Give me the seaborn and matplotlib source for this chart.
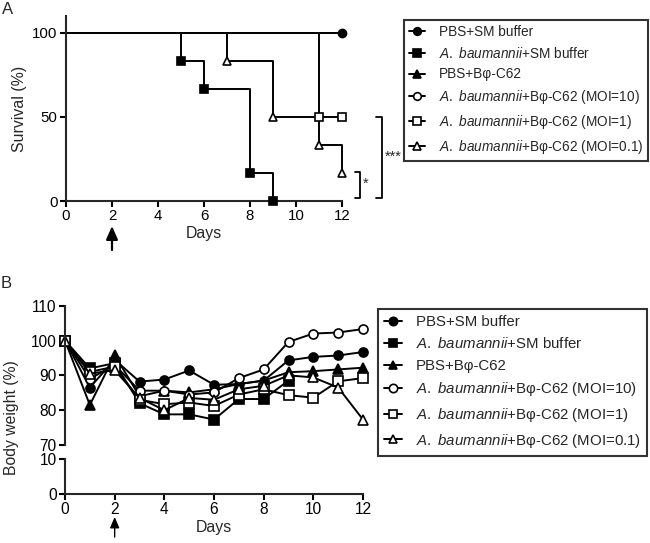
import matplotlib as mpl
import matplotlib.pyplot as plt
import matplotlib.transforms as mtransforms
from matplotlib.lines import Line2D
import seaborn as sns

sns.set_style("ticks")
mpl.rcParams["font.family"] = ["Liberation Sans", "DejaVu Sans"]
mpl.rcParams["mathtext.fontset"] = "custom"
mpl.rcParams["mathtext.rm"] = "Liberation Sans"
mpl.rcParams["mathtext.it"] = "Liberation Sans:italic"

# group labels, markers
groups = ["PBS+SM buffer",
          r"$\it{A.\ baumannii}$+SM buffer",
          "PBS+Bφ-C62",
          r"$\it{A.\ baumannii}$+Bφ-C62 (MOI=10)",
          r"$\it{A.\ baumannii}$+Bφ-C62 (MOI=1)",
          r"$\it{A.\ baumannii}$+Bφ-C62 (MOI=0.1)"]
markers = ["o", "s", "^", "o", "s", "^"]
filled = [True, True, True, False, False, False]

# panel A: survival (Kaplan-Meier steps)
surv_t = [[0, 12], [0, 5, 6, 8, 9], [0, 12], [0, 12], [0, 11, 12], [0, 7, 9, 11, 12]]
surv_s = [[100, 100], [100, 83.3, 66.7, 16.7, 0], [100, 100], [100, 100],
          [100, 50, 50], [100, 83.3, 50, 33.3, 16.7]]
mark_t = [[12], [5, 6, 8, 9], [], [], [11, 12], [7, 9, 11, 12]]
mark_s = [[100], [83.3, 66.7, 16.7, 0], [], [], [50, 50], [83.3, 50, 33.3, 16.7]]

# panel B: body weight
days = list(range(13))
bw_pbs_sm = [100, 86.5, 94.5, 88.2, 88.8, 91.4, 87.3, 87.5, 88.5, 94.3, 95.3, 95.7, 96.7]
bw_ab_sm = [100, 92, 93.5, 82, 78.8, 78.8, 77.3, 83.2, 83.2, 88.5]
bw_pbs_ph = [100, 81.5, 95.8, 84, 85.6, 85.1, 86, 87.5, 88.5, 90.9, 91.2, 91.7, 92.2]
bw_moi10 = [100, 89, 93, 85.6, 85.6, 84.5, 85.1, 89.2, 91.7, 99.6, 102, 102.3, 103.3]
bw_moi1 = [100, 91, 92.5, 83, 81.7, 82.2, 81.2, 84.5, 86, 84.3, 83.6, 88.3, 89.2]
bw_moi01 = [100, 90.5, 91.5, 83.5, 80, 83.5, 83, 86, 87, 90, 89.4, 86.5, 77.3]
bw = [bw_pbs_sm, bw_ab_sm, bw_pbs_ph, bw_moi10, bw_moi1, bw_moi01]

W, H = 650, 543
fig = plt.figure(figsize=(6.5, 5.43), dpi=100)

def fx(px):
    return px / W

def fy(py):
    return 1 - py / H

lw = 1.4

def style_axis(ax, size):
    for s in ["top", "right"]:
        ax.spines[s].set_visible(False)
    for s in ["left", "bottom"]:
        ax.spines[s].set_linewidth(1.5)
    ax.tick_params(width=1.5, length=4, labelsize=size, pad=2, colors="black")

# ---------- panel A ----------
axA = fig.add_axes([fx(66), fy(201), fx(342) - fx(66), fy(16) - fy(201)])
for i in range(6):
    sns.lineplot(x=surv_t[i], y=surv_s[i], ax=axA, color="black", lw=lw,
                 drawstyle="steps-post", clip_on=False, zorder=2)
    if mark_t[i]:
        axA.plot(mark_t[i], mark_s[i], ls="none", marker=markers[i], ms=5.8,
                 mfc="black" if filled[i] else "white", mec="black", mew=1.2,
                 clip_on=False, zorder=3)
axA.set_xlim(0, 12)
axA.set_ylim(0, 110)
axA.set_xticks(range(0, 13, 2))
axA.set_yticks([0, 50, 100])
axA.set_xlabel("Days", fontsize=11.4, labelpad=2)
axA.set_ylabel("Survival (%)", fontsize=11.4, labelpad=4)
style_axis(axA, 10.8)

# significance brackets
axA.plot([13.47, 13.73, 13.73, 13.47], [50, 50, 1.6, 1.6], color="black", lw=1.3, clip_on=False)
axA.plot([12.57, 12.78, 12.78, 12.57], [17.4, 17.4, 1.6, 1.6], color="black", lw=1.3, clip_on=False)
axA.text(13.85, 26, "***", fontsize=10.5, va="center", ha="left")
axA.text(12.9, 10, "*", fontsize=10.5, va="center", ha="left")

handlesA = [Line2D([], [], color="black", lw=lw, marker=markers[i], ms=5.5,
                   mfc="black" if filled[i] else "white", mec="black", mew=1.2)
            for i in range(6)]
legA = axA.legend(handlesA, groups, loc="upper left", bbox_to_anchor=(fx(404), fy(20)),
                  bbox_transform=fig.transFigure, fontsize=9.8, frameon=True, fancybox=False,
                  edgecolor="black", handlelength=1.2, handletextpad=1.0, labelspacing=0.5,
                  borderpad=0.35, borderaxespad=0)
legA.get_frame().set_linewidth(1.5)

trA = mtransforms.blended_transform_factory(axA.transData, fig.transFigure)
axA.annotate("", xy=(2, fy(226)), xytext=(2, fy(250)), xycoords=trA, textcoords=trA,
             arrowprops=dict(arrowstyle="-|>,head_length=0.8,head_width=0.35", lw=1.6,
                             color="black", shrinkA=0, shrinkB=0))

# ---------- panel B (broken axis) ----------
axB = fig.add_axes([fx(65), fy(445), fx(363) - fx(65), fy(305.7) - fy(445)])
axB0 = fig.add_axes([fx(65), fy(494), fx(363) - fx(65), fy(459) - fy(494)])
for i in range(6):
    sns.lineplot(x=days[:len(bw[i])], y=bw[i], ax=axB, color="black", lw=lw,
                 marker=markers[i], ms=6.5, mfc="black" if filled[i] else "white",
                 mec="black", mew=1.2, label=groups[i], clip_on=False)
axB.set_xlim(0, 12)
axB.set_ylim(70, 110)
axB.set_yticks(range(70, 111, 10))
axB.set_xticks([])
axB.set_xlabel("")
axB.set_ylabel("Body weight (%)", fontsize=11.3, labelpad=4)
axB.yaxis.set_label_coords(-0.155, 0.2)
style_axis(axB, 11.2)
axB.spines["bottom"].set_visible(False)

axB0.set_xlim(0, 12)
axB0.set_ylim(0, 10)
axB0.set_yticks([0, 10])
axB0.set_xticks(range(0, 13, 2))
axB0.set_xlabel("Days", fontsize=11.4, labelpad=2)
style_axis(axB0, 11.2)

handlesB = [Line2D([], [], color="black", lw=lw, marker=markers[i], ms=6,
                   mfc="black" if filled[i] else "white", mec="black", mew=1.2)
            for i in range(6)]
legB = axB.legend(handlesB, groups, loc="upper left", bbox_to_anchor=(fx(378), fy(309)),
                  bbox_transform=fig.transFigure, fontsize=10.8, frameon=True, fancybox=False,
                  edgecolor="black", handlelength=1.2, handletextpad=0.9, labelspacing=0.5,
                  borderpad=0.4, borderaxespad=0)
legB.get_frame().set_linewidth(1.5)

trB = mtransforms.blended_transform_factory(axB0.transData, fig.transFigure)
axB0.annotate("", xy=(2, fy(517)), xytext=(2, fy(537)), xycoords=trB, textcoords=trB,
              arrowprops=dict(arrowstyle="-|>,head_length=0.65,head_width=0.28", lw=1.0,
                              color="black", shrinkA=0, shrinkB=0))

fig.text(fx(2), fy(2), "A", fontsize=12, va="top", ha="left")
fig.text(fx(1), fy(276), "B", fontsize=12, va="top", ha="left")

fig.savefig("out.png", dpi=100)
